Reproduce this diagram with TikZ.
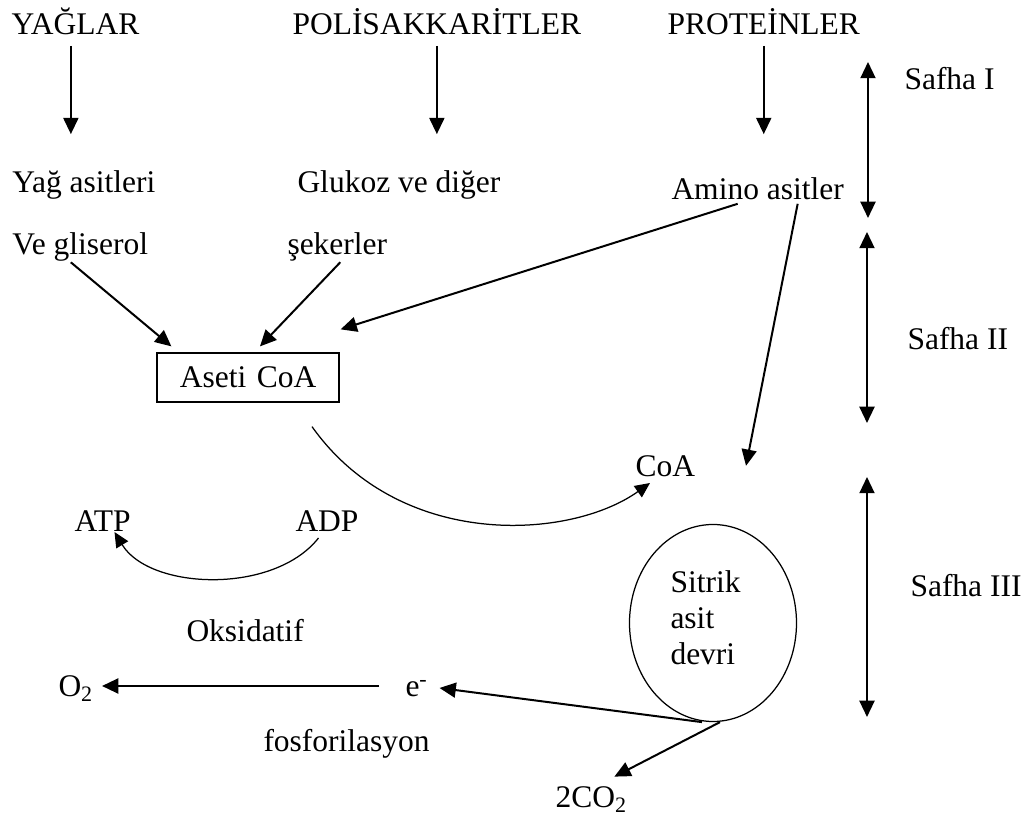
\documentclass[tikz,border=0pt]{standalone}
\usepackage{fontspec}
\setmainfont{Liberation Serif}
\usetikzlibrary{arrows.meta,shapes.geometric,calc}

\tikzset{
	lbl/.style={inner sep=0pt, anchor=base west, font=\fontsize{12.6}{15.1}\selectfont},
	arr/.style={line width=0.8pt, -{Triangle[length=6.5pt,width=6pt]}},
	darr/.style={line width=0.8pt, {Triangle[length=6.5pt,width=6pt]}-{Triangle[length=6.5pt,width=6pt]}},
	bendarr/.style={line width=0.5pt, -{Triangle[length=6pt,width=5.5pt]}},
	box/.style={draw, line width=0.5pt, inner ysep=0pt, inner xsep=9.2pt, text width=54.4pt, align=left, minimum height=19.6pt, font=\fontsize{12.6}{15.1}\selectfont},
	cycle/.style={draw, ellipse, line width=0.5pt, inner sep=0pt, minimum width=66.8pt, minimum height=78.8pt}
}

\begin{document}
\begin{tikzpicture}[x=0.4pt, y=-0.4pt]
	\useasboundingbox (0,0) rectangle (1028,817);

	\node[lbl] (yaglar) at (11,35) {YAĞLAR};
	\node[lbl] (polisak) at (292,35) {POLİSAKKARİTLER};
	\node[lbl] (protein) at (667,35) {PROTEİNLER};

	\node[lbl] (yagasit) at (12,193) {Yağ asitleri};
	\node[lbl] (glukoz) at (297,193) {Glukoz ve diğer};
	\node[lbl] (amino) at (671,200) {Amino asitler};
	\node[lbl] (vegli) at (12,255) {Ve gliserol};
	\node[lbl] (seker) at (287,255) {şekerler};

	\node[box] (aseti) at (248,377.5) {\mbox{Aseti CoA}};
	\node[lbl] (coa) at (635,477) {CoA};
	\node[lbl] (atp) at (74,532) {ATP};
	\node[lbl] (adp) at (295,532) {ADP};

	\node[cycle] (devir) at (713,623) {};
	\node[lbl, anchor=north west, align=left, font=\fontsize{12.6}{14.4}\selectfont] (sitrik) at (670,570) {Sitrik\\asit\\devri};

	\node[lbl] (oksid) at (186,642) {Oksidatif};
	\node[lbl] (elek) at (405,697) {e\textsuperscript{-}};
	\node[lbl] (o2) at (58,697) {O\textsubscript{2}};
	\node[lbl] (fosfor) at (263,752) {fosforilasyon};
	\node[lbl] (co2) at (555,808) {2CO\textsubscript{2}};

	\node[lbl] (safha1) at (904,90) {Safha I};
	\node[lbl] (safha2) at (907,350) {Safha II};
	\node[lbl] (safha3) at (910,597) {Safha III};

	\coordinate (s1top) at (868,62);
	\coordinate (s1bot) at (868,218);
	\coordinate (s2top) at (867,232);
	\coordinate (s2bot) at (867,423);
	\coordinate (s3top) at (867,477);
	\coordinate (s3bot) at (867,717);

	\draw[arr, shorten <=4pt, shorten >=14.6pt] ([xshift=-1.8pt]yaglar.south) -- ([xshift=-1.8pt]yaglar.south |- yagasit.north);
	\draw[arr, shorten <=4pt, shorten >=14.6pt] (polisak.south) -- (polisak.south |- glukoz.north);
	\draw[arr, shorten <=4pt, shorten >=17.4pt] (protein.south) -- (protein.south |- amino.north);

	\draw[arr] ($(vegli.south)+(-9.5,0)$) -- ($(aseti.north west)+(15,-6)$);
	\draw[arr] ($(seker.south)+(3,0)$) -- ($(aseti.north)+(12,-6)$);
	\draw[arr] ($(amino.south)+(-20,3)$) -- ($(aseti.north east)+(1,-23)$);
	\draw[arr] ($(amino.south)+(40,3)$) -- ($(coa.south east)+(50.5,-12)$);

	\draw[bendarr] ($(aseti.south)+(64,24)$) .. controls +(88,124) and +(-80,57) .. ($(coa.base west)+(15,6)$);
	\draw[bendarr] ($(adp.base)+(-8.5,6)$) .. controls +(-45,57) and +(35,58) .. ($(atp.base)+(12,0)$);

	\draw[arr] ($(devir.south)+(-11,0)$) -- ($(elek.base east)+(11,-9)$);
	\draw[arr] ($(devir.south)+(7,0)$) -- ($(co2.north)+(23,-10)$);
	\draw[arr] ($(elek.base west)+(-26,-11)$) -- ($(o2.base east)+(8,-11)$);

	\draw[darr] (s1top) -- (s1bot);
	\draw[darr] (s2top) -- (s2bot);
	\draw[darr] (s3top) -- (s3bot);

\end{tikzpicture}
\end{document}
